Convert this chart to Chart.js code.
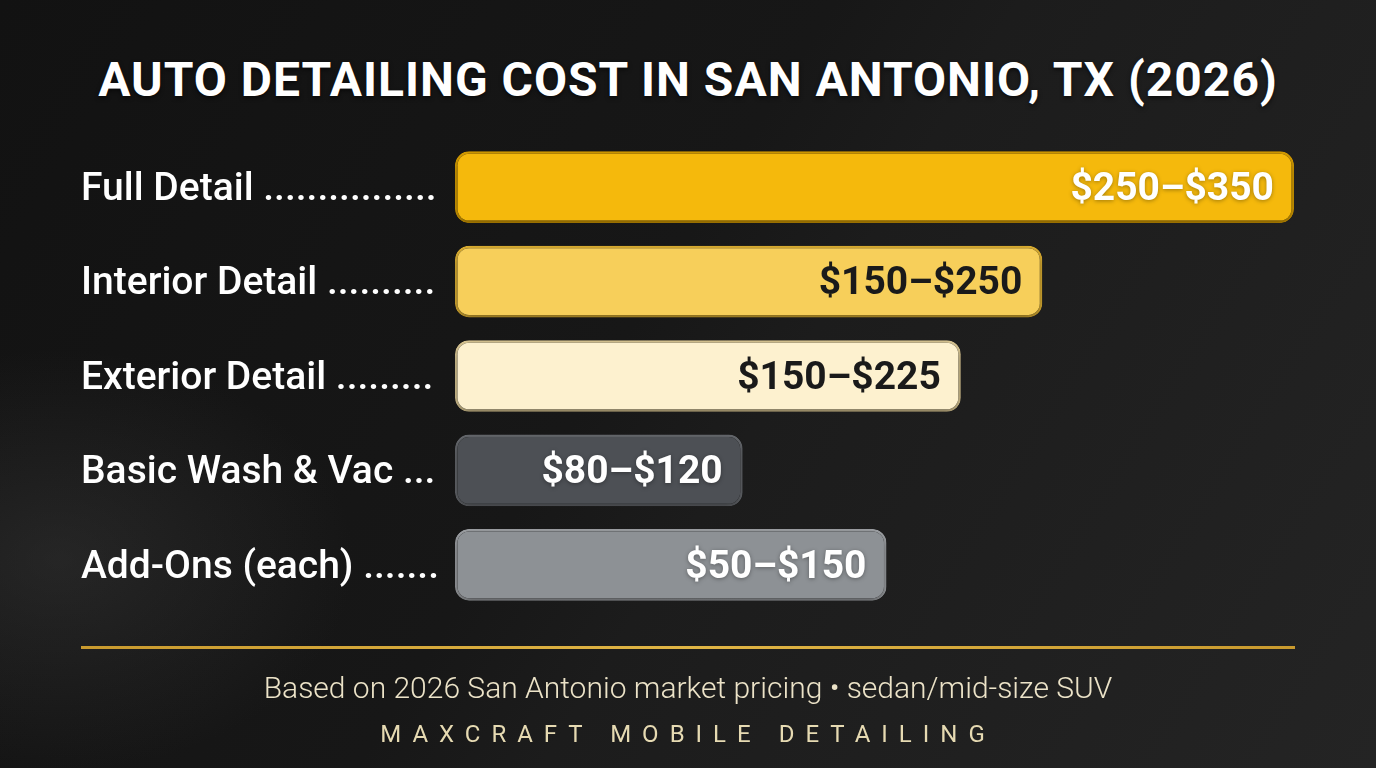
<!DOCTYPE html>
<html>
<head>
<meta charset="utf-8">
<script src="https://cdn.jsdelivr.net/npm/chart.js@4.4.1/dist/chart.umd.min.js"></script>
<style>
  html, body { margin: 0; padding: 0; }
  body {
    width: 1376px; height: 768px; overflow: hidden; position: relative;
    background:
      radial-gradient(ellipse 420px 300px at 60px 560px, rgba(70,70,70,0.35), rgba(0,0,0,0) 70%),
      linear-gradient(122deg, #121212 0%, #171717 45%, #1c1c1c 55%, #242424 100%);
    font-family: Roboto, "Noto Sans", sans-serif;
  }
  #title {
    position: absolute; top: 50px; left: 0; width: 1376px; text-align: center;
    color: #fff; font-weight: 700; font-size: 48px; letter-spacing: 1px; line-height: 60px;
    text-shadow: 0 2px 4px rgba(0,0,0,0.6);
  }
  #chartWrap { position: absolute; left: 0; top: 0; width: 1376px; height: 768px; }
  #rule {
    position: absolute; left: 81px; top: 646px; width: 1214px; height: 3px;
    background: linear-gradient(90deg, #c99a2e, #e0b545 50%, #c99a2e);
  }
  #note {
    position: absolute; top: 669px; left: 0; width: 1376px; text-align: center;
    color: #ece3c8; font-size: 30px; font-weight: 300; line-height: 38px;
  }
  #brand {
    position: absolute; top: 718px; left: 0; width: 1376px; text-align: center;
    color: #e6dab2; font-size: 24px; font-weight: 400; letter-spacing: 11px; line-height: 32px;
  }
</style>
</head>
<body>
<div id="title">AUTO DETAILING COST IN SAN ANTONIO, TX (2026)</div>
<div id="chartWrap"><canvas id="chart" width="1376" height="768"></canvas></div>
<div id="rule"></div>
<div id="note">Based on 2026 San Antonio market pricing • sedan/mid-size SUV</div>
<div id="brand">MAXCRAFT MOBILE DETAILING</div>
<script>
// services and price ranges as printed on the bars
const services = ['Full Detail', 'Interior Detail', 'Exterior Detail', 'Basic Wash & Vac', 'Add-Ons (each)'];
const priceLow = [250, 150, 150, 80, 50];
const priceHigh = [350, 250, 225, 120, 150];
// bar lengths as drawn (in dollars on the same scale as Full Detail = $350)
const barLength = [350, 245, 211, 120, 180];

const barFill = ['#f5b90c', '#f7cf5a', '#fdf1cf', '#4d5055', '#8d9195'];
const barEdge = ['#e3a600', '#e9b935', '#e6d29c', '#6b6e73', '#a6a9ad'];
const textColor = ['#ffffff', '#1a1a1a', '#1a1a1a', '#ffffff', '#ffffff'];

const labelFont = '500 39px Roboto';
const labelWidth = 361;

// pad each service name with dots so the leaders end at the same place
const measureCtx = document.createElement('canvas').getContext('2d');
measureCtx.font = labelFont;
function withDots(name) {
  let s = name + ' ';
  while (measureCtx.measureText(s + '.').width <= labelWidth) s += '.';
  return s;
}

const valueLabels = {
  id: 'valueLabels',
  afterDatasetsDraw(chart) {
    const ctx = chart.ctx;
    const meta = chart.getDatasetMeta(0);
    ctx.save();
    ctx.font = '700 39px Roboto';
    ctx.textAlign = 'right';
    ctx.textBaseline = 'middle';
    meta.data.forEach((bar, i) => {
      const txt = '$' + priceLow[i] + '\u2013$' + priceHigh[i];
      if (textColor[i] === '#ffffff') {
        ctx.shadowColor = 'rgba(0,0,0,0.35)';
        ctx.shadowBlur = 4;
        ctx.shadowOffsetY = 1;
      } else {
        ctx.shadowColor = 'transparent';
      }
      ctx.fillStyle = textColor[i];
      ctx.fillText(txt, bar.x - 20, bar.y + 3);
    });
    ctx.restore();
  }
};

const barShadow = {
  id: 'barShadow',
  beforeDatasetsDraw(chart) {
    chart.ctx.save();
    chart.ctx.shadowColor = 'rgba(0,0,0,0.55)';
    chart.ctx.shadowBlur = 10;
    chart.ctx.shadowOffsetY = 3;
  },
  afterDatasetsDraw(chart) {
    chart.ctx.restore();
  }
};

new Chart(document.getElementById('chart'), {
  type: 'bar',
  data: {
    labels: services,
    datasets: [{
      data: barLength,
      backgroundColor: barFill,
      borderColor: barEdge,
      borderWidth: 2.5,
      borderRadius: 14,
      borderSkipped: false,
      barPercentage: 0.76,
      categoryPercentage: 1
    }]
  },
  options: {
    indexAxis: 'y',
    responsive: false,
    animation: false,
    layout: { padding: { left: 81, right: 82, top: 140, bottom: 156 } },
    plugins: { legend: { display: false }, tooltip: { enabled: false } },
    scales: {
      x: { display: false, min: 0, max: 350 },
      y: {
        grid: { display: false },
        border: { display: false },
        afterFit(scale) { scale.width = 374; },
        ticks: {
          crossAlign: 'far',
          labelOffset: 3,
          color: '#ffffff',
          font: { family: 'Roboto', size: 39, weight: '500' },
          callback(value) { return withDots(services[value]); }
        }
      }
    }
  },
  plugins: [barShadow, valueLabels]
});
</script>
</body>
</html>
